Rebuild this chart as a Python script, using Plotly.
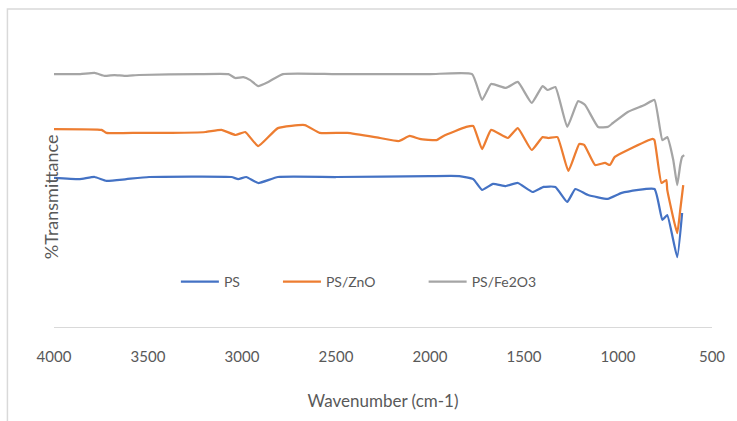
import plotly.graph_objects as go

# FTIR spectra: wavenumber (cm-1) vs. %Transmittance (arbitrary offset scale)
ps_wn = [4000, 3863, 3784, 3721, 3615, 3494, 3056, 3020, 2977, 2914, 2809, 2500,
         2000, 1844, 1770, 1723, 1665, 1596, 1533, 1454, 1396, 1333, 1270, 1227,
         1159, 1054, 980, 806, 764, 738, 685, 659]
ps_t = [49.7, 49.3, 50.0, 48.7, 49.3, 50.0, 50.0, 49.3, 50.0, 48.0, 50.0, 50.0,
        50.3, 50.3, 49.3, 45.7, 47.7, 47.0, 48.0, 45.0, 46.7, 46.7, 41.7, 46.0,
        44.0, 42.7, 44.7, 46.0, 35.7, 37.3, 23.3, 38.0]

zno_wn = [4000, 3747, 3721, 3547, 3373, 3194, 3109, 3035, 2983, 2914, 2809, 2666,
          2587, 2440, 2266, 2166, 2108, 2055, 1965, 1928, 1807, 1770, 1723, 1675,
          1586, 1533, 1459, 1401, 1370, 1322, 1264, 1206, 1180, 1122, 1069, 1043,
          1017, 948, 816, 806, 769, 743, 738, 685, 669, 653]
zno_t = [66.0, 65.7, 64.7, 64.7, 64.7, 65.0, 65.7, 64.0, 65.0, 60.3, 66.3, 67.3,
         64.7, 64.7, 63.0, 62.0, 63.7, 62.7, 62.3, 63.7, 66.7, 67.0, 59.3, 65.7,
         63.0, 66.3, 59.0, 63.3, 63.0, 63.3, 52.0, 61.0, 60.7, 54.0, 54.7, 54.0,
         56.7, 59.0, 62.7, 62.3, 48.0, 49.0, 45.7, 31.3, 39.0, 47.3]

fe_wn = [4000, 3860, 3784, 3731, 3678, 3626, 3547, 3230, 3072, 3035, 2993, 2956,
         2914, 2860, 2782, 2500, 2000, 1776, 1723, 1675, 1596, 1533, 1459, 1401,
         1375, 1333, 1270, 1212, 1175, 1106, 1054, 1027, 948, 859, 806, 764,
         738, 706, 685, 669, 659, 648]
fe_t = [84.3, 84.3, 84.7, 83.7, 84.0, 83.7, 84.0, 84.3, 84.3, 83.0, 83.3, 82.3,
        80.3, 81.7, 84.3, 84.3, 84.3, 84.3, 75.7, 81.0, 79.7, 81.7, 74.7, 80.3,
        79.0, 80.0, 66.7, 75.3, 74.0, 66.7, 66.7, 68.0, 71.7, 74.0, 75.7, 62.3,
        63.3, 55.7, 47.3, 54.0, 56.7, 57.3]

x_ticks = [4000, 3500, 3000, 2500, 2000, 1500, 1000, 500]

FONT = "Lato"
TXT = "#595959"

series = [("PS", ps_wn, ps_t, "#4472C4", "legend", 185),
          ("PS/ZnO", zno_wn, zno_t, "#ED7D31", "legend2", 288),
          ("PS/Fe2O3", fe_wn, fe_t, "#A5A5A5", "legend3", 435)]

fig = go.Figure()
legends = {}
for name, xs, ys, col, leg, px in series:
    fig.add_trace(go.Scatter(x=xs, y=ys, mode="lines", name=name, legend=leg,
                             line=dict(color=col, width=2.25, shape="spline",
                                       smoothing=0.4)))
    legends[leg] = dict(x=(px - 54 - 8) / 664, xanchor="left",
                        y=(327 - 282) / 300, yanchor="middle",
                        bgcolor="rgba(0,0,0,0)", borderwidth=0,
                        font=dict(size=14, color=TXT), itemwidth=38)

# outer chart border (partly clipped by the canvas)
fig.add_shape(type="rect", xref="paper", yref="paper",
              x0=(7 - 54) / 664, x1=(760 - 54) / 664,
              y0=(327 - 440) / 300, y1=(327 - 9) / 300,
              line=dict(color="#D9D9D9", width=1.5), layer="below")

fig.add_annotation(text="%Transmittance", xref="paper", yref="paper",
                   x=(38 - 54) / 664, y=(327 - 197) / 300, textangle=-90,
                   showarrow=False, font=dict(family=FONT, size=18, color=TXT))

fig.update_layout(
    width=737, height=421,
    margin=dict(l=54, r=19, t=27, b=94),
    paper_bgcolor="white", plot_bgcolor="white",
    font=dict(family=FONT, color=TXT),
    xaxis=dict(range=[4000, 500], tickvals=x_ticks, showgrid=False,
               zeroline=False, showline=True, linecolor="#D9D9D9", linewidth=1,
               ticks="", ticklabelstandoff=16, tickfont=dict(size=15, color=TXT),
               title=dict(text="Wavenumber (cm-1)", standoff=31,
                          font=dict(size=17, color=TXT))),
    yaxis=dict(range=[0, 100], showgrid=False, zeroline=False,
               showticklabels=False, showline=False, ticks=""),
    showlegend=True,
    **legends,
)

fig.write_html("out.html")
